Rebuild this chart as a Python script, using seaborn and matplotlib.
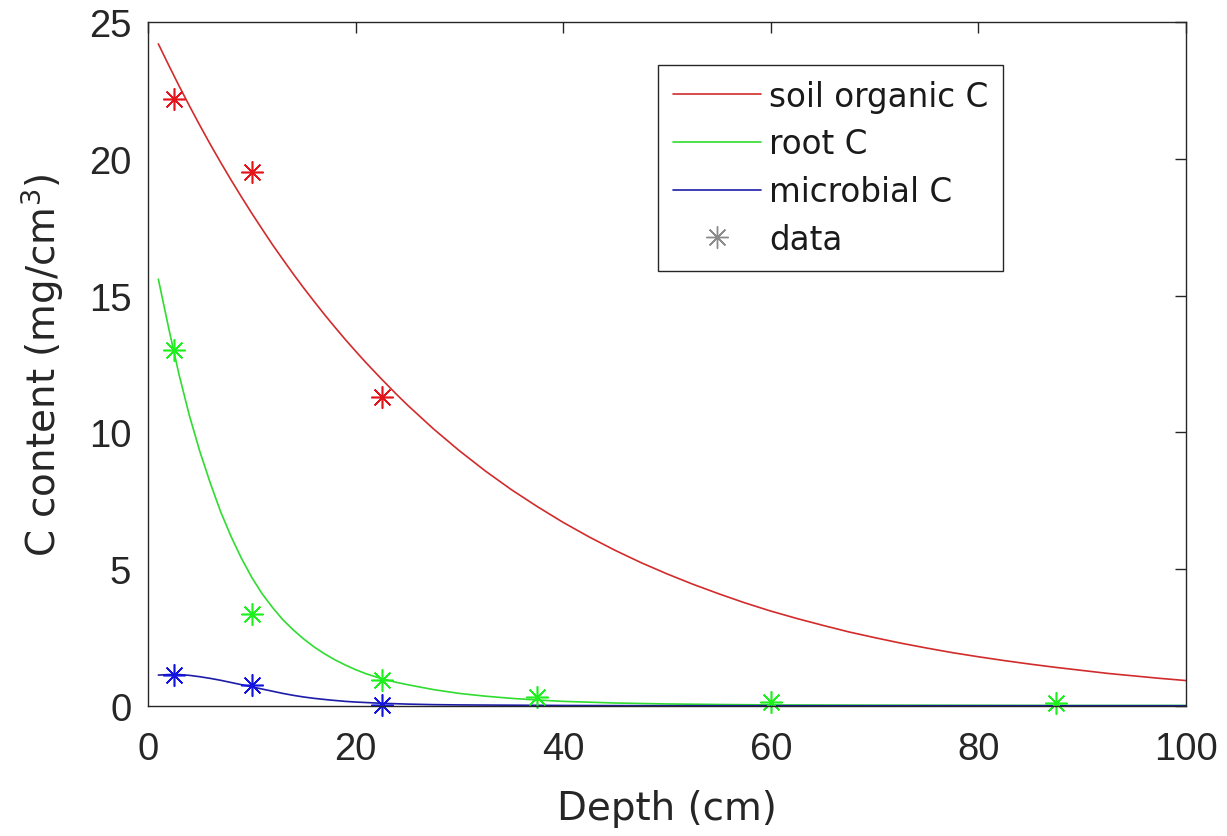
import numpy as np
import pandas as pd
import matplotlib
matplotlib.use("Agg")
import matplotlib.pyplot as plt
from matplotlib.lines import Line2D
import seaborn as sns

# ---- data ----
# model curves (depth in cm, C content in mg/cm^3)
soc_depth = [1, 2, 3, 4, 5, 6, 7, 8, 9, 10, 11, 12, 13, 14, 15, 16, 17, 18, 19, 20, 21,
             22.5, 24, 25, 27.5, 30, 32.5, 35, 37.5, 40, 42.5, 45, 47.5, 50, 52.5, 55,
             57.5, 60, 62.5, 65, 67.5, 70, 72.5, 75, 77.5, 80, 82.5, 85, 87.5, 90, 92.5,
             95, 97.5, 100]
soc_value = [24.20, 23.42, 22.66, 21.93, 21.22, 20.53, 19.87, 19.23, 18.61, 18.01, 17.43,
             16.86, 16.32, 15.79, 15.28, 14.79, 14.31, 13.85, 13.40, 12.97, 12.55, 11.95,
             11.37, 11.00, 10.13, 9.33, 8.59, 7.91, 7.29, 6.71, 6.18, 5.69, 5.24, 4.83,
             4.45, 4.10, 3.77, 3.47, 3.20, 2.95, 2.71, 2.50, 2.30, 2.12, 1.95, 1.80, 1.66,
             1.53, 1.41, 1.30, 1.19, 1.10, 1.01, 0.93]

root_depth = [1, 2, 2.5, 3, 4, 5, 6, 7, 8, 9, 10, 11, 12, 13, 14, 15, 16, 17, 18, 19, 20,
              21, 22.5, 24, 25, 27.5, 30, 32.5, 35, 37.5, 40, 45, 50, 55, 60, 70, 80, 90,
              100]
root_value = [15.6, 13.8, 12.95, 12.1, 10.6, 9.3, 8.15, 7.1, 6.2, 5.4, 4.7, 4.1, 3.6, 3.15,
              2.78, 2.45, 2.16, 1.91, 1.69, 1.50, 1.33, 1.18, 1.0, 0.86, 0.78, 0.6, 0.46,
              0.36, 0.28, 0.22, 0.17, 0.11, 0.075, 0.055, 0.04, 0.03, 0.025, 0.02, 0.02]

mic_depth = [1, 2, 3, 4, 5, 6, 7, 8, 9, 10, 11, 12, 13, 14, 15, 16, 17.5, 19, 20, 22.5,
             25, 27.5, 30, 35, 40, 50, 60, 70, 80, 90, 100]
mic_value = [1.13, 1.15, 1.15, 1.12, 1.07, 1.01, 0.94, 0.86, 0.78, 0.70, 0.62, 0.54, 0.46,
             0.39, 0.33, 0.28, 0.22, 0.17, 0.145, 0.10, 0.07, 0.05, 0.04, 0.03, 0.02, 0.01,
             0.01, 0.01, 0.01, 0.01, 0.01]

# measured data points
soc_data_depth = [2.5, 10, 22.5]
soc_data_value = [22.2, 19.5, 11.3]
root_data_depth = [2.5, 10, 22.5, 37.5, 60, 87.5]
root_data_value = [13.0, 3.35, 0.95, 0.33, 0.15, 0.12]
mic_data_depth = [2.5, 10, 22.5]
mic_data_value = [1.12, 0.78, 0.03]

series_labels = ["soil organic C", "root C", "microbial C", "data"]
x_ticks = [0, 20, 40, 60, 80, 100]
y_ticks = [0, 5, 10, 15, 20, 25]

# ---- styling ----
sns.set_theme(style="white")
plt.rcParams["font.family"] = ["Liberation Sans", "DejaVu Sans"]

line_red, line_green, line_blue = "#d22b2b", "#2fdc2f", "#1c1ca8"
mk_red, mk_green, mk_blue = "#e3141c", "#1fef1f", "#1414e0"
axis_col = "#262626"
asterisk = (8, 2, 0)

fig = plt.figure(figsize=(12.27, 8.37), dpi=100)
ax = fig.add_axes([0.1206, 0.1553, 0.846, 0.8172])

curves = [
    (soc_depth, soc_value, line_red),
    (root_depth, root_value, line_green),
    (mic_depth, mic_value, line_blue),
]
for d, v, c in curves:
    df = pd.DataFrame({"depth": d, "C": v})
    sns.lineplot(data=df, x="depth", y="C", ax=ax, color=c, linewidth=1.2,
                 legend=False, sort=False, estimator=None)

points = [
    (soc_data_depth, soc_data_value, mk_red),
    (root_data_depth, root_data_value, mk_green),
    (mic_data_depth, mic_data_value, mk_blue),
]
for d, v, c in points:
    df = pd.DataFrame({"depth": d, "C": v})
    sns.lineplot(data=df, x="depth", y="C", ax=ax, color=c, linestyle="",
                 marker=asterisk, markersize=16, markeredgewidth=1.15,
                 markeredgecolor=c, legend=False, estimator=None, sort=False,
                 clip_on=False)

ax.set_xlim(0, 100)
ax.set_ylim(0, 25)
ax.set_xticks(x_ticks)
ax.set_yticks(y_ticks)
ax.set_xticklabels([str(t) for t in x_ticks])
ax.set_yticklabels([str(t) for t in y_ticks])

for sp in ax.spines.values():
    sp.set_visible(True)
    sp.set_color(axis_col)
    sp.set_linewidth(1.0)

ax.tick_params(axis="both", which="major", direction="in", length=8, width=1.0,
               color=axis_col, labelcolor=axis_col, top=True, right=True,
               labelsize=27.5)
ax.tick_params(axis="x", pad=18)
ax.tick_params(axis="y", pad=12)

ax.set_xlabel("Depth (cm)", fontsize=28, color=axis_col, family="DejaVu Sans",
              labelpad=16)
ax.set_ylabel("C content (mg/cm$^3$)", fontsize=28, color=axis_col,
              family="DejaVu Sans", labelpad=16)

handles = [
    Line2D([], [], color=line_red, linewidth=1.2),
    Line2D([], [], color=line_green, linewidth=1.2),
    Line2D([], [], color=line_blue, linewidth=1.2),
    Line2D([], [], color="#8a8a8a", linestyle="", marker=asterisk, markersize=16,
           markeredgewidth=1.0),
]
leg = ax.legend(handles, series_labels, loc="upper right",
                bbox_to_anchor=(0.824, 0.937), borderaxespad=0,
                frameon=True, fancybox=False, edgecolor=axis_col, framealpha=1,
                prop={"family": "DejaVu Sans", "size": 23.5},
                handlelength=2.7, handletextpad=0.25, labelspacing=0.45,
                borderpad=0.45)
leg.get_frame().set_linewidth(1.0)
for t in leg.get_texts():
    t.set_color("#1a1a1a")

fig.savefig("out.png", dpi=100, facecolor="white")
